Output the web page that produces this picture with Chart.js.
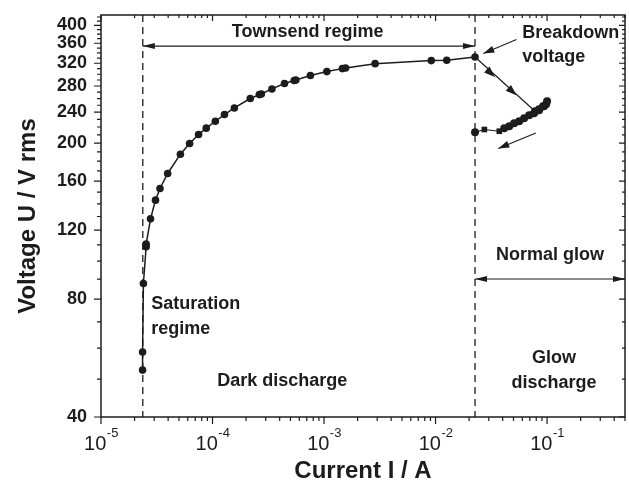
<!DOCTYPE html>
<html>
<head>
<meta charset="utf-8">
<script src="https://cdn.jsdelivr.net/npm/chart.js@4.4.1/dist/chart.umd.min.js"></script>
<style>
  html, body { margin: 0; padding: 0; background: #fff; }
  canvas { display: block; }
</style>
</head>
<body>
<canvas id="vi" width="629" height="485"></canvas>
<script>
// dark discharge branch (saturation + Townsend), current in A, voltage in V rms
var townsendCurrent = [2.36e-5, 2.36e-5, 2.40e-5, 2.54e-5, 2.54e-5, 2.78e-5, 3.08e-5, 3.38e-5, 3.96e-5, 5.15e-5,
    6.23e-5, 7.50e-5, 8.79e-5, 1.06e-4, 1.28e-4, 1.57e-4, 2.18e-4, 2.63e-4, 2.74e-4, 3.41e-4,
    4.42e-4, 5.40e-4, 5.59e-4, 7.55e-4, 1.06e-3, 1.46e-3, 1.56e-3, 2.87e-3, 9.16e-3, 1.26e-2, 2.26e-2];
var townsendVoltage = [52.7, 58.6, 87.7, 108.8, 110.5, 128.2, 143.1, 153.3, 167.4, 187.5,
    199.6, 210.5, 218.5, 227.6, 236.7, 246.1, 260.1, 266.2, 267.1, 275.2,
    284.0, 289.1, 290.1, 297.9, 304.7, 310.1, 311.2, 319.3, 325.1, 325.7, 332.1];

// after breakdown: jump into the normal glow and back down
var glowCurrent = [0.0226, 0.0781, 0.0848, 0.0921, 0.0980, 0.1000, 0.0940, 0.0848, 0.0765, 0.0691,
    0.0623, 0.0562, 0.0507, 0.0458, 0.0413, 0.0373, 0.0274, 0.0226];
var glowVoltage = [332.1, 241.3, 244.2, 248.5, 251.5, 255.9, 248.5, 242.8, 238.6, 235.7,
    231.6, 227.6, 224.9, 221.0, 218.5, 214.6, 216.8, 213.3];

// regime boundaries (A)
var saturationEdge = 2.37e-5;
var breakdownCurrent = 2.26e-2;

var yTicks = [40, 50, 60, 70, 80, 90, 100, 110, 120, 130, 140, 150, 160, 170, 180, 190, 200, 210, 220, 230,
    240, 250, 260, 270, 280, 290, 300, 310, 320, 330, 340, 350, 360, 370, 380, 390, 400, 410, 420];
var xDecades = [1e-5, 1e-4, 1e-3, 1e-2, 1e-1];
var xExponents = ['-5', '-4', '-3', '-2', '-1'];

var ink = '#1c1c1c';
var fontFamily = '"Liberation Sans", Arial, Helvetica, sans-serif';

function toPoints(xs, ys) {
    return xs.map(function(v, i) { return { x: v, y: ys[i] }; });
}

function arrowHead(ctx, x, y, angle, len, half) {
    var c = Math.cos(angle), s = Math.sin(angle);
    ctx.beginPath();
    ctx.moveTo(x, y);
    ctx.lineTo(x - len * c + half * s, y - len * s - half * c);
    ctx.lineTo(x - len * c - half * s, y - len * s + half * c);
    ctx.closePath();
    ctx.fill();
}

function arrow(ctx, x1, y1, x2, y2) {
    ctx.beginPath();
    ctx.moveTo(x1, y1);
    ctx.lineTo(x2, y2);
    ctx.stroke();
    arrowHead(ctx, x2, y2, Math.atan2(y2 - y1, x2 - x1), 11, 3.5);
}

function doubleArrow(ctx, x1, x2, y) {
    ctx.beginPath();
    ctx.moveTo(x1, y);
    ctx.lineTo(x2, y);
    ctx.stroke();
    arrowHead(ctx, x1, y, Math.PI, 12, 3);
    arrowHead(ctx, x2, y, 0, 12, 3);
}

var decor = {
    id: 'decor',
    beforeDatasetsDraw: function(chart) {
        var ctx = chart.ctx, a = chart.chartArea;
        var xs = chart.scales.x;
        ctx.save();
        ctx.strokeStyle = ink;
        ctx.lineWidth = 1.3;
        ctx.setLineDash([7, 5]);
        [saturationEdge, breakdownCurrent].forEach(function(c) {
            var px = xs.getPixelForValue(c);
            ctx.beginPath();
            ctx.moveTo(px, a.top);
            ctx.lineTo(px, a.bottom);
            ctx.stroke();
        });
        ctx.restore();
    },
    afterDatasetsDraw: function(chart) {
        var ctx = chart.ctx, a = chart.chartArea;
        var xs = chart.scales.x, ys = chart.scales.y;
        function px(v) { return xs.getPixelForValue(v); }
        function py(v) { return ys.getPixelForValue(v); }

        ctx.save();
        ctx.strokeStyle = ink;
        ctx.fillStyle = ink;

        // frame
        ctx.lineWidth = 1.5;
        ctx.strokeRect(a.left, a.top, a.right - a.left, a.bottom - a.top);

        // tick marks, outside on bottom/left, inside on top/right
        ctx.lineWidth = 1.2;
        ctx.beginPath();
        yTicks.forEach(function(v) {
            var y = py(v), len = v % 40 === 0 ? 7 : 4;
            ctx.moveTo(a.left - len, y); ctx.lineTo(a.left, y);
            ctx.moveTo(a.right, y); ctx.lineTo(a.right - len + 1, y);
        });
        xDecades.forEach(function(d) {
            for (var m = 1; m <= 9; m++) {
                var v = d * m;
                if (v > 0.5) break;
                var x = px(v), len = m === 1 ? 7 : 4;
                ctx.moveTo(x, a.bottom); ctx.lineTo(x, a.bottom + len);
                ctx.moveTo(x, a.top); ctx.lineTo(x, a.top + len - 1);
            }
        });
        ctx.stroke();

        // x tick labels 10^n
        ctx.textBaseline = 'alphabetic';
        xDecades.forEach(function(d, i) {
            ctx.font = '20px ' + fontFamily;
            var w1 = ctx.measureText('10').width;
            ctx.font = '13px ' + fontFamily;
            var w2 = ctx.measureText(xExponents[i]).width;
            var x0 = px(d) - (w1 + w2) / 2;
            ctx.font = '20px ' + fontFamily;
            ctx.textAlign = 'left';
            ctx.fillText('10', x0, a.bottom + 33);
            ctx.font = '13px ' + fontFamily;
            ctx.fillText(xExponents[i], x0 + w1 + 0.5, a.bottom + 20);
        });

        // regime arrows
        ctx.lineWidth = 1.1;
        doubleArrow(ctx, px(saturationEdge), px(breakdownCurrent), py(354));
        doubleArrow(ctx, px(breakdownCurrent), a.right, py(90));
        arrow(ctx, px(0.0532), py(367.8), px(0.0268), py(338.7));
        arrow(ctx, px(0.0794), py(212.5), px(0.0365), py(193.9));

        // direction marks on the breakdown jump
        var bx = px(glowCurrent[0]), by = py(glowVoltage[0]);
        var ex = px(glowCurrent[1]), ey = py(glowVoltage[1]);
        var ang = Math.atan2(ey - by, ex - bx);
        arrowHead(ctx, px(0.0341), py(295.3), ang, 11, 4);
        arrowHead(ctx, px(0.0532), py(265.1), ang, 11, 4);

        // labels
        ctx.font = 'bold 18px ' + fontFamily;
        ctx.textBaseline = 'middle';
        ctx.textAlign = 'center';
        ctx.fillText('Townsend regime', px(7.12e-4), py(384.5));
        ctx.fillText('Normal glow', px(0.1063), py(103.6));
        ctx.fillText('Dark discharge', px(4.22e-4), py(49.3));
        ctx.fillText('Glow', px(0.1155), py(56.6));
        ctx.fillText('discharge', px(0.1155), py(48.9));
        ctx.textAlign = 'left';
        ctx.fillText('Breakdown', px(0.0598), py(381.5));
        ctx.fillText('voltage', px(0.0598), py(332));
        ctx.fillText('Saturation', px(2.82e-5), py(77.7));
        ctx.fillText('regime', px(2.82e-5), py(67.1));
        ctx.restore();
    }
};

var glowStyles = glowCurrent.map(function(c, i) {
    return (i === 15 || i === 16) ? 'rect' : 'circle';
});
var glowRadius = glowCurrent.map(function(c, i) {
    return i === 0 ? 0 : 4;
});

var vi;

document.addEventListener('DOMContentLoaded', function(event) {
    var context = document.getElementById('vi').getContext('2d');
    vi = new Chart(context, {
        type: 'scatter',
        data: {
            datasets: [
                {
                    label: 'dark discharge',
                    data: toPoints(townsendCurrent, townsendVoltage),
                    showLine: true,
                    borderColor: ink,
                    backgroundColor: ink,
                    borderWidth: 1.5,
                    pointRadius: 3.8,
                    pointBorderWidth: 0
                },
                {
                    label: 'glow',
                    data: toPoints(glowCurrent, glowVoltage),
                    showLine: true,
                    borderColor: ink,
                    backgroundColor: ink,
                    borderWidth: 1.2,
                    pointRadius: glowRadius,
                    pointStyle: glowStyles,
                    pointBorderWidth: 0
                }
            ]
        },
        options: {
            responsive: false,
            animation: false,
            devicePixelRatio: 1,
            layout: { padding: { top: 15, right: 1, left: 0, bottom: 0 } },
            plugins: { legend: { display: false }, tooltip: { enabled: false } },
            scales: {
                x: {
                    type: 'logarithmic',
                    min: 1e-5,
                    max: 0.5,
                    grid: { display: false, drawTicks: false },
                    border: { display: false },
                    ticks: { display: false },
                    title: {
                        display: true,
                        text: 'Current I / A',
                        color: ink,
                        font: { family: fontFamily, size: 24, weight: 'bold' },
                        padding: { top: 0, bottom: -1 }
                    },
                    afterFit: function(s) {
                        s.height = 68;
                        s.paddingLeft = 0;
                        s.paddingRight = 0;
                    }
                },
                y: {
                    type: 'logarithmic',
                    min: 40,
                    max: 425,
                    afterBuildTicks: function(s) {
                        s.ticks = yTicks.map(function(v) { return { value: v }; });
                    },
                    grid: { display: false, drawTicks: false },
                    border: { display: false },
                    ticks: {
                        autoSkip: false,
                        padding: 14,
                        color: ink,
                        font: { family: fontFamily, size: 18, weight: 'bold' },
                        callback: function(v) { return v % 40 === 0 ? String(v) : ''; }
                    },
                    title: {
                        display: true,
                        text: 'Voltage U / V rms',
                        color: ink,
                        font: { family: fontFamily, size: 24, weight: 'bold' },
                        padding: { top: 14, bottom: 0 }
                    },
                    afterFit: function(s) {
                        s.width = 101;
                        s.paddingTop = 0;
                        s.paddingBottom = 0;
                    }
                }
            }
        },
        plugins: [decor]
    });
});
</script>
</body>
</html>
